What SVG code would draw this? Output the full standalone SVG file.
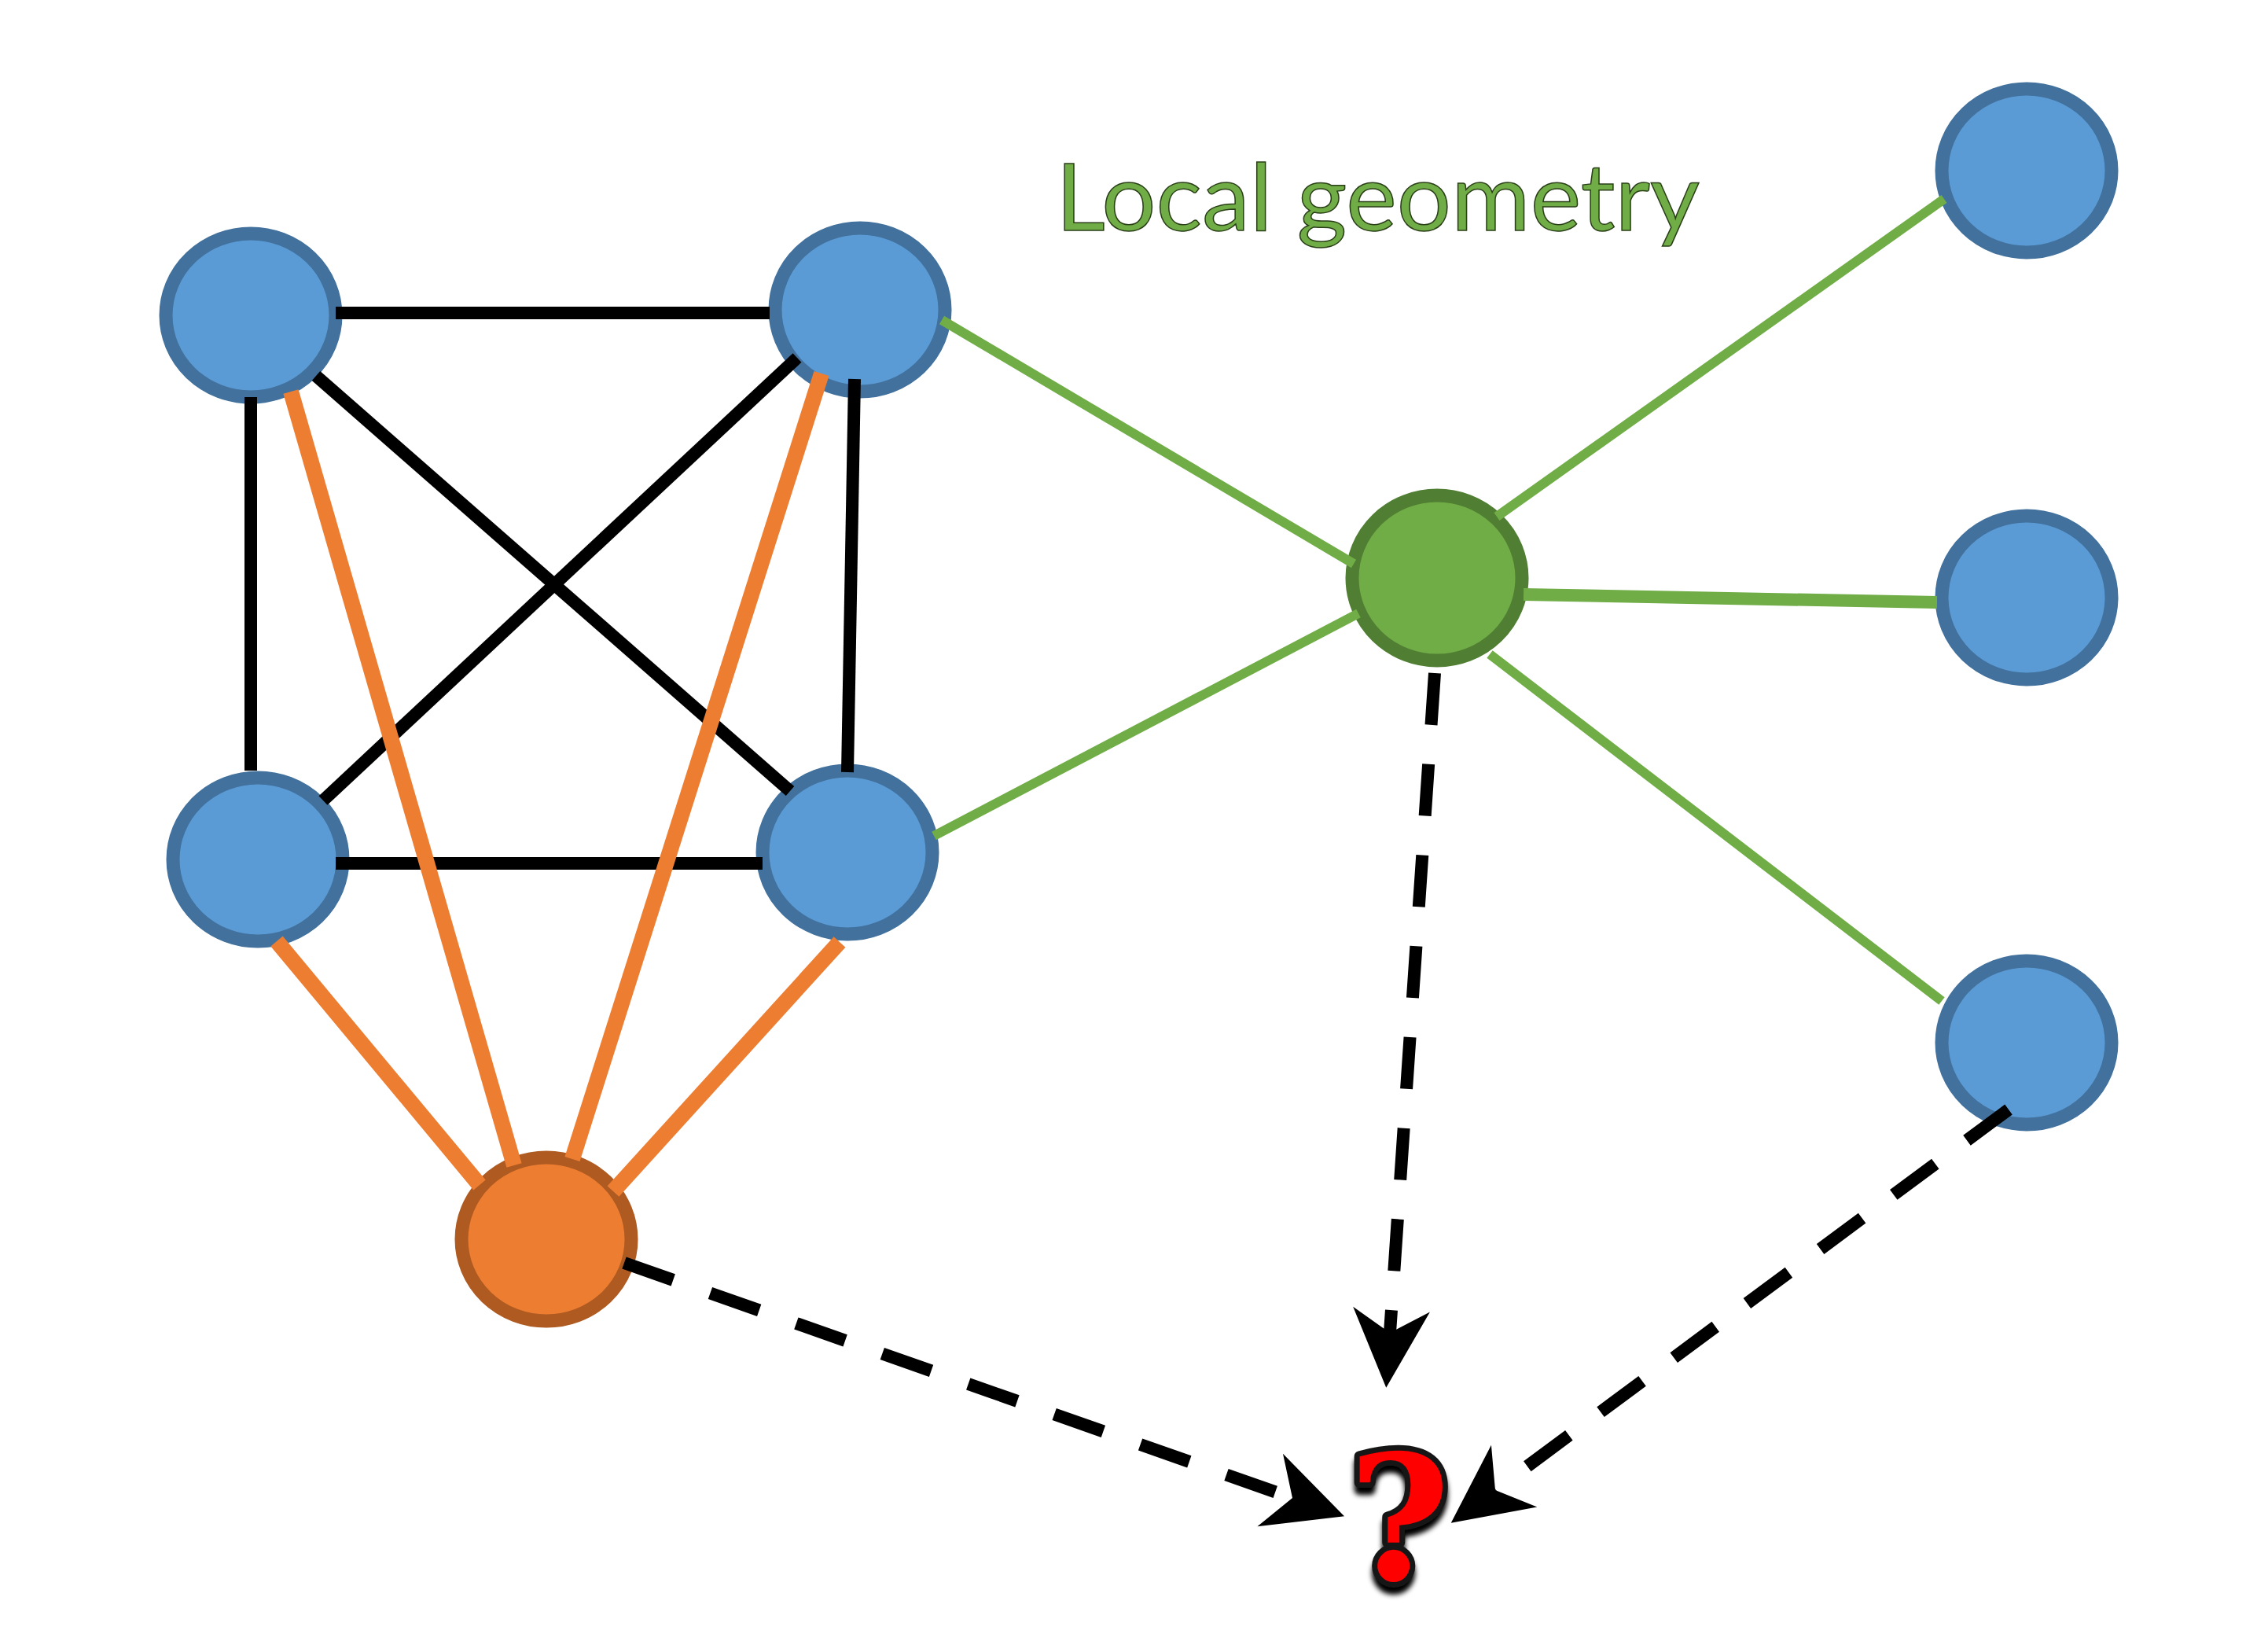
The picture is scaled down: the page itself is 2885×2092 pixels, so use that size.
<svg xmlns="http://www.w3.org/2000/svg" width="2885" height="2092" viewBox="0 0 2885 2092">
<style>
.blue{fill:#5B9BD5;stroke:#41719C;stroke-width:17}
.grn{fill:#70AD47;stroke:#507E32;stroke-width:17}
.org{fill:#ED7D31;stroke:#AE5A21;stroke-width:17}
.k{stroke:#000;stroke-width:16;fill:none}
.o{stroke:#ED7D31;stroke-width:20;fill:none}
.g{stroke:#70AD47;stroke-width:12;fill:none}
.d{stroke:#000;stroke-width:16;fill:none;stroke-dasharray:66 50}
.lbl{font-family:Lato,"Open Sans","Liberation Sans",sans-serif;font-size:119px;fill:#70AD47;stroke:#2a3f18;stroke-width:1.5}
</style>
<defs>
<marker id="arr" markerUnits="userSpaceOnUse" orient="auto" markerWidth="120" markerHeight="120" refX="40" refY="60" viewBox="0 0 120 120">
<path d="M110,60 L10,11 L40,60 L10,109 Z" fill="#000"/>
</marker>
<filter id="sh" x="-30%" y="-20%" width="160%" height="150%">
<feDropShadow dx="0" dy="9" stdDeviation="3" flood-color="#000" flood-opacity="1"/>
</filter>
</defs>
<rect width="2885" height="2092" fill="#fff"/>
<g id="nodes">
<g id="n-tl"><ellipse class="blue" cx="319" cy="401" rx="108" ry="104"/></g>
<g id="n-tr"><ellipse class="blue" cx="1094" cy="394" rx="108" ry="104"/></g>
<g id="n-bl"><ellipse class="blue" cx="328" cy="1093" rx="108" ry="104"/></g>
<g id="n-br"><ellipse class="blue" cx="1078" cy="1084" rx="108" ry="104"/></g>
<g id="n-orange"><ellipse class="org" cx="695" cy="1576" rx="108" ry="104"/></g>
<g id="n-green"><ellipse class="grn" cx="1828" cy="735" rx="108" ry="105"/></g>
<g id="n-r1"><ellipse class="blue" cx="2578" cy="217" rx="108" ry="104"/></g>
<g id="n-r2"><ellipse class="blue" cx="2578" cy="760" rx="108" ry="104"/></g>
<g id="n-r3"><ellipse class="blue" cx="2578" cy="1326" rx="108" ry="104"/></g>
</g>
<g id="connectors">
<line class="k" x1="427" y1="398" x2="979" y2="398"/>
<line class="k" x1="319" y1="505" x2="319" y2="980"/>
<line class="k" x1="402" y1="478" x2="1005" y2="1006"/>
<line class="k" x1="1014" y1="455" x2="411" y2="1018"/>
<line class="k" x1="1087" y1="482" x2="1078" y2="982"/>
<line class="k" x1="427" y1="1098" x2="970" y2="1098"/>
<line class="o" x1="370" y1="498" x2="654" y2="1482"/>
<line class="o" x1="1045" y1="475" x2="728" y2="1474"/>
<line class="o" x1="352" y1="1197" x2="610" y2="1507"/>
<line class="o" x1="1068" y1="1198" x2="780" y2="1515"/>
<line class="g" x1="1198" y1="407" x2="1722" y2="717"/>
<line class="g" x1="1188" y1="1063" x2="1728" y2="780"/>
<line class="g" x1="1904" y1="657" x2="2473" y2="253"/>
<line class="g" style="stroke-width:16" x1="1938" y1="756" x2="2464" y2="766"/>
<line class="g" x1="1895" y1="832" x2="2470" y2="1273"/>
<path class="d" d="M1825,856 L1768,1695" marker-end="url(#arr)"/>
<path class="d" d="M794,1606 L1644,1905" marker-end="url(#arr)"/>
<path class="d" d="M2555,1411 L1902,1895" marker-end="url(#arr)"/>
</g>
<g id="label">
<text class="lbl" x="1343" y="293" textLength="819" lengthAdjust="spacingAndGlyphs">Local geometry</text>
</g>
<g id="question">
<text x="1780" y="2009" text-anchor="middle" font-family="DejaVu Serif,serif" font-weight="bold" font-size="221" fill="#FF0000" stroke="#151515" stroke-width="14" stroke-linejoin="round" paint-order="stroke" filter="url(#sh)">?</text>
</g>
</svg>
